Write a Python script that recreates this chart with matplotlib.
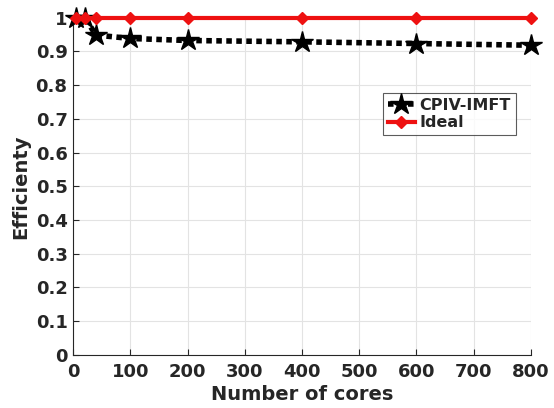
import matplotlib
matplotlib.use("Agg")
import matplotlib.pyplot as plt
import numpy as np

cores = [5, 20, 40, 100, 200, 400, 600, 800]
cpiv_eff = [1.0, 1.0, 0.948, 0.938, 0.932, 0.928, 0.923, 0.918]
ideal_eff = [1.0, 1.0, 1.0, 1.0, 1.0, 1.0, 1.0, 1.0]

plt.rcParams['font.family'] = 'DejaVu Sans'
plt.rcParams['font.weight'] = 'bold'
txt = '#262626'

fig = plt.figure(figsize=(5.54, 4.08), dpi=100)
ax = fig.add_axes([0.132, 0.130, 0.826, 0.827])

ax.plot(cores, cpiv_eff, color='black', linestyle=(0, (1, 0.8)), linewidth=4,
        marker='*', markersize=16, label='CPIV-IMFT', clip_on=False, zorder=3)
ax.plot(cores, ideal_eff, color='#ee1111', linewidth=3,
        marker='D', markersize=6, label='Ideal', clip_on=False, zorder=4)

ax.set_xlim(0, 800)
ax.set_ylim(0, 1)
ax.set_xticks(np.arange(0, 801, 100))
ax.set_yticks(np.arange(0, 1.01, 0.1))
ax.set_yticklabels(['0', '0.1', '0.2', '0.3', '0.4', '0.5', '0.6', '0.7', '0.8', '0.9', '1'])
ax.grid(True, color='#e3e3e3', linewidth=0.8)
ax.set_axisbelow(True)
ax.spines['top'].set_visible(False)
ax.spines['right'].set_visible(False)
for s in ['left', 'bottom']:
    ax.spines[s].set_color(txt)
ax.tick_params(direction='in', length=4, colors=txt, labelsize=13)
ax.tick_params(axis='x', pad=6)
ax.tick_params(axis='y', pad=4)
for lab in ax.get_xticklabels() + ax.get_yticklabels():
    lab.set_fontweight('bold')

ax.set_xlabel('Number of cores', fontsize=14, fontweight='bold', color=txt, labelpad=3)
ax.set_ylabel('Efficienty', fontsize=14, fontweight='bold', color=txt, labelpad=4)

leg = ax.legend(loc='upper right', bbox_to_anchor=(0.985, 0.80), fontsize=11.5,
                frameon=True, fancybox=False, edgecolor='#333333',
                handlelength=1.7, handletextpad=0.3, borderpad=0.3, labelspacing=0.15)
leg.get_frame().set_linewidth(0.8)
for t in leg.get_texts():
    t.set_color(txt)
    t.set_fontweight('bold')

fig.savefig('out.png', dpi=100)
